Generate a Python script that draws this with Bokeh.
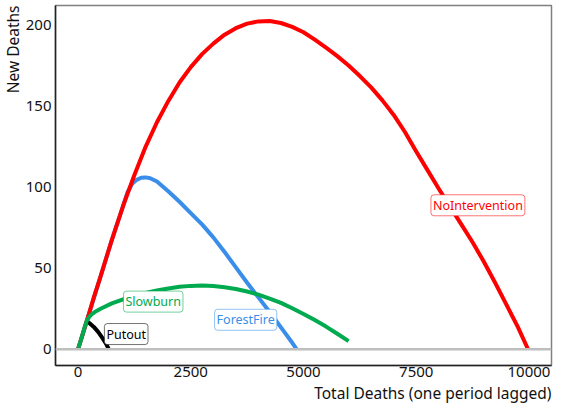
from bokeh.plotting import figure
from bokeh.models import Label, Span, FixedTicker, Range1d, Title
from bokeh.embed import file_html
from bokeh.resources import INLINE

# Total deaths (one period lagged) vs new deaths, per scenario
noint_x = [0, 100, 200, 350, 500, 750, 1000, 1250, 1500, 1750, 2000, 2250, 2500,
           2750, 3000, 3250, 3500, 3750, 4000, 4250, 4500, 4750, 5000, 5250,
           5500, 5750, 6000, 6250, 6500, 6750, 7000, 7250, 7500, 7750, 8000,
           8250, 8500, 8750, 9000, 9250, 9500, 9750, 9980]
noint_y = [0, 9, 18, 32, 45, 67.5, 88.5, 107.5, 125, 140, 153, 164.5, 174,
           182, 188.5, 194, 198, 200.8, 202.2, 202.4, 201.2, 198.8, 195.5, 191,
           186, 180.8, 175, 168.5, 161.5, 153.5, 144.5, 134, 122, 110.5, 99,
           88, 77, 66, 54, 41, 27.5, 14, 0]

forest_x = [0, 200, 500, 750, 1000, 1100, 1200, 1300, 1400, 1500, 1600, 1750,
            2000, 2250, 2500, 2750, 3000, 3250, 3500, 3750, 4000, 4250, 4500,
            4750, 4850]
forest_y = [0, 18, 45, 67.5, 88.5, 97, 102, 104.5, 105.8, 106, 105.5, 103.5,
            97.5, 91, 84, 77, 69, 60, 50.5, 41, 32, 23, 13.5,
            4, 0]

slow_x = [0, 50, 100, 150, 200, 250, 300, 400, 500, 750, 1000, 1250, 1500,
          1750, 2000, 2250, 2500, 2750, 3000, 3250, 3500, 3750, 4000, 4250,
          4500, 4750, 5000, 5250, 5500, 5750, 6000]
slow_y = [0, 4.5, 9, 14, 18, 20, 21.5, 23.5, 25, 28.3, 30.8, 33, 34.8,
          36.3, 37.5, 38.5, 39.1, 39.3, 39, 38.3, 37.2, 35.6, 33.7, 31.3,
          28.6, 25.3, 21.8, 18, 14, 9.6, 5]

putout_x = [190, 250, 350, 450, 550, 620, 684]
putout_y = [17.5, 16.2, 13.8, 10.6, 6.6, 3.5, 0]

label_names = ["NoIntervention", "ForestFire", "Slowburn", "Putout"]
label_x = [8868, 3718, 1667, 1068]
label_y = [88.8, 18.2, 29.4, 9.4]
label_colors = ["#FF0000", "#3A8EEA", "#00AA4F", "#000000"]

x_ticks = [0, 2500, 5000, 7500, 10000]
y_ticks = [0, 50, 100, 150, 200]

FONT = "Noto Sans"

p = figure(width=553, height=403, output_backend="svg", toolbar_location=None,
           x_range=Range1d(-500, 10500), y_range=Range1d(-10, 212),
           min_border_left=0, min_border_right=2, min_border_top=5, min_border_bottom=0)
p.grid.visible = False
p.outline_line_color = "#808080"
p.outline_line_width = 1.5
p.background_fill_color = "white"

# zero line
p.add_layout(Span(location=0, dimension="width", line_color="#BEBEBE", line_width=2.5))

lw = 4
p.line(forest_x, forest_y, line_color=label_colors[1], line_width=lw, line_join="round")
p.line(noint_x, noint_y, line_color=label_colors[0], line_width=lw, line_join="round")
p.line(putout_x, putout_y, line_color=label_colors[3], line_width=lw, line_join="round")
p.line(slow_x, slow_y, line_color=label_colors[2], line_width=lw, line_join="round")

for name, lx, ly, c in zip(label_names, label_x, label_y, label_colors):
    p.add_layout(Label(x=lx, y=ly, text=name, text_align="center", text_baseline="middle",
                       text_color=c, text_font=FONT, text_font_size="12.5px",
                       background_fill_color="white", border_line_color=c,
                       border_line_alpha=0.55, border_line_width=1,
                       border_radius=3, padding=2))

for ax in (p.xaxis[0], p.yaxis[0]):
    ax.major_tick_line_color = None
    ax.minor_tick_line_color = None
    ax.major_tick_out = 0
    ax.major_tick_in = 0
    ax.axis_line_color = "#222222"
    ax.axis_line_width = 1.5
    ax.major_label_text_font = FONT
    ax.major_label_text_font_size = "15px"
    ax.major_label_text_color = "#111111"
    ax.major_label_standoff = 4

p.xaxis.ticker = FixedTicker(ticks=x_ticks)
p.yaxis.ticker = FixedTicker(ticks=y_ticks)
p.xaxis.major_label_standoff = 1

xt = Title(text="Total Deaths (one period lagged)", align="right", text_font=FONT,
           text_font_size="15.5px", text_font_style="normal", text_color="#111111",
           standoff=0, offset=0)
p.add_layout(xt, "below")
yt = Title(text="New Deaths", align="right", text_font=FONT,
           text_font_size="15.5px", text_font_style="normal", text_color="#111111",
           standoff=-2, offset=0)
p.add_layout(yt, "left")

open("out.html", "w").write(file_html(p, INLINE))
